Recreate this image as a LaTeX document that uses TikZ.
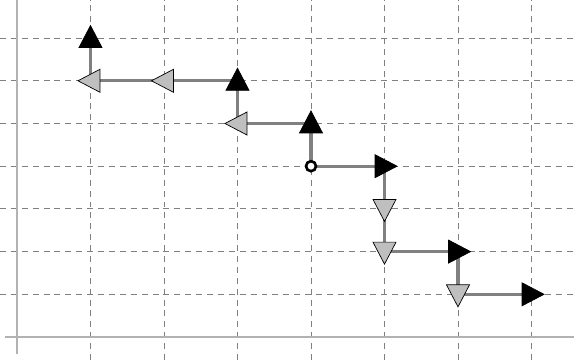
\documentclass[tikz,border=0pt]{standalone}
\usetikzlibrary{shapes.geometric}
\begin{document}
\begin{tikzpicture}[x=1.47cm,y=0.854cm,
 gridline/.style={black!50, line width=0.5pt, dash pattern=on 3.4pt off 2.8pt},
 axisline/.style={black!30, line width=1pt},
 walk/.style={black!50, line width=1.8pt},
 tri/.style={isosceles triangle, isosceles triangle stretches, draw=black, line width=0.4pt,
  minimum width=0.46cm, minimum height=0.44cm, inner sep=0pt, xshift=-0.05cm},
 fwd/.style={tri, fill=black},
 back/.style={tri, fill=black!25}]
 \useasboundingbox (-0.231,-0.539) rectangle (7.578,7.892);
 % grid
 \foreach \i in {1,...,7} \draw[gridline] (\i,-0.539) -- (\i,7.892);
 \foreach \j in {1,...,7} \draw[gridline] (-0.231,\j) -- (7.578,\j);
 \draw[axisline] (0,-0.4) -- (0,7.892);
 \draw[axisline] (-0.163,0) -- (7.578,0);

 \coordinate (S) at (4,4); % start
 \coordinate (R1) at (5,4);
 \coordinate (D1) at (5,3);
 \coordinate (D2) at (5,2);
 \coordinate (R2) at (6,2);
 \coordinate (D3) at (6,1);
 \coordinate (R3) at (7,1);
 \coordinate (U1) at (4,5);
 \coordinate (L1) at (3,5);
 \coordinate (U2) at (3,6);
 \coordinate (L2) at (2,6);
 \coordinate (L3) at (1,6);
 \coordinate (U3) at (1,7);

 \draw[walk] (S) -- (R1) -- (D1) -- (D2) -- (R2) -- (D3) -- (R3);
 \draw[walk] (S) -- (U1) -- (L1) -- (U2) -- (L2) -- (L3) -- (U3);

 \foreach \p in {R1,R2,R3} \node[rotate=0, fwd] at (\p) {};
 \foreach \p in {U1,U2,U3} \node[rotate=90, fwd] at (\p) {};
 \foreach \p in {D1,D2,D3} \node[rotate=-90, back] at (\p) {};
 \foreach \p in {L1,L2,L3} \node[rotate=180, back] at (\p) {};

 \node[circle, draw=black, fill=white, line width=1.5pt, minimum size=0.2cm, inner sep=0pt] (start) at (S) {};
\end{tikzpicture}
\end{document}
